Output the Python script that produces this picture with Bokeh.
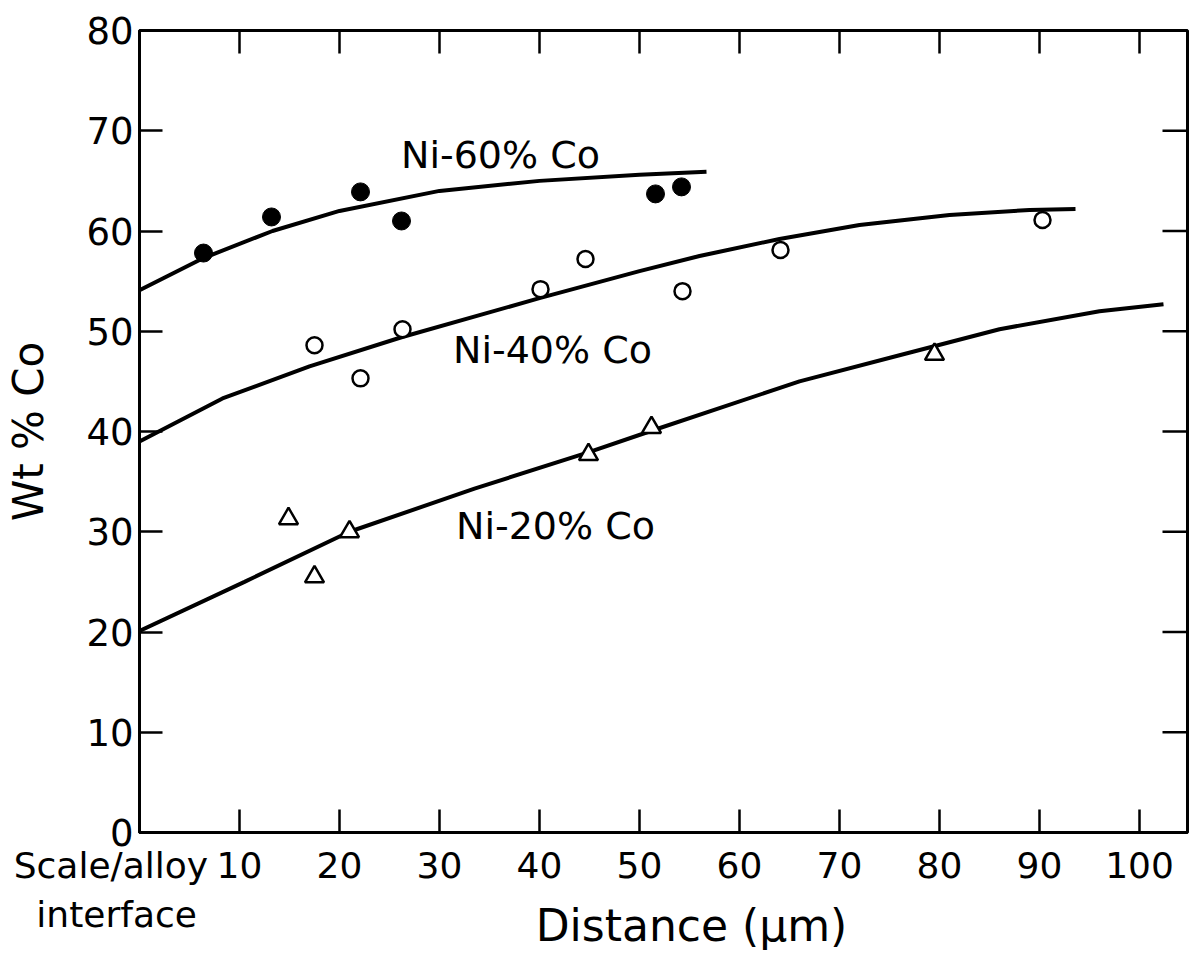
import math
from bokeh.plotting import figure
from bokeh.models import FixedTicker, Range1d, ColumnDataSource
from bokeh.core.properties import value
from bokeh.embed import file_html
from bokeh.resources import INLINE

FONT = "DejaVu Sans"
NB = "\u00a0"

# ---- data ----
co60_x = [6.4, 13.2, 22.1, 26.2, 51.6, 54.2]
co60_y = [57.8, 61.4, 63.9, 61.0, 63.7, 64.4]
co40_x = [17.5, 22.1, 26.3, 40.1, 44.6, 54.3, 64.1, 90.3]
co40_y = [48.6, 45.3, 50.2, 54.2, 57.2, 54.0, 58.1, 61.1]
co20_x = [14.9, 17.5, 21.0, 44.9, 51.2, 79.5]
co20_y = [31.3, 25.5, 30.0, 37.7, 40.4, 47.7]

fit60_x = [0, 6.4, 13.3, 20, 30, 40, 50, 56.7]
fit60_y = [54.1, 57.3, 60.0, 62.0, 64.0, 65.0, 65.6, 65.9]
fit40_x = [0, 8.3, 17, 26.2, 40, 50, 56, 64, 72, 81, 89, 93.6]
fit40_y = [39.0, 43.3, 46.5, 49.4, 53.3, 56.0, 57.5, 59.2, 60.6, 61.6, 62.1, 62.2]
fit20_x = [0, 10.5, 21, 33.5, 44.8, 51, 66, 76, 86, 96, 102.4]
fit20_y = [20.1, 25.0, 30.0, 34.3, 37.9, 40.0, 45.0, 47.6, 50.2, 52.0, 52.7]

curve_labels = ["Ni-60% Co", "Ni-40% Co", "Ni-20% Co"]
curve_label_x = [36.1, 41.3, 41.6]
curve_label_y = [67.6, 48.1, 30.6]

x_ticks = [0, 10, 20, 30, 40, 50, 60, 70, 80, 90, 100]
y_ticks = [0, 10, 20, 30, 40, 50, 60, 70, 80]
origin_label = ["Scale/alloy", "interface"]
X_MAX = 104.8
Y_MAX = 80

p = figure(width=1189, height=961, output_backend="svg", toolbar_location=None,
           x_range=Range1d(0, X_MAX), y_range=Range1d(0, Y_MAX),
           min_border_left=139, min_border_right=2, min_border_top=30, min_border_bottom=129,
           background_fill_color="white", border_fill_color="white")
p.grid.visible = False
p.outline_line_color = "black"
p.outline_line_width = 3

xa = p.xaxis[0]
xa.ticker = FixedTicker(ticks=x_ticks)
# the origin tick carries the "Scale/alloy interface" note (padded so it sits left of the tick)
xa.major_label_overrides = {0: origin_label[0] + NB * 5 + "\n" + origin_label[1] + NB * 4}
xa.axis_label = NB * 4 + "Distance (\u03bcm)"
ya = p.yaxis[0]
ya.ticker = FixedTicker(ticks=y_ticks)
ya.axis_label = "Wt % Co"

for ax in (xa, ya):
    ax.axis_line_width = 3
    ax.axis_line_color = "black"
    ax.major_tick_in = 23
    ax.major_tick_out = 0
    ax.major_tick_line_width = 2.5
    ax.major_tick_line_color = "black"
    ax.minor_tick_line_color = None
    ax.major_label_text_font = FONT
    ax.major_label_text_color = "black"
    ax.axis_label_text_font = FONT
    ax.axis_label_text_font_style = "normal"
    ax.axis_label_text_color = "black"

xa.major_label_text_font_size = "36px"
xa.major_label_standoff = 12
xa.axis_label_text_font_size = "44px"
xa.axis_label_standoff = -38
ya.major_label_text_font_size = "37px"
ya.major_label_standoff = 6
ya.axis_label_text_font_size = "42px"
ya.axis_label_standoff = 30

# inward tick marks on the top and right frame edges (outer half clipped by the frame)
top_ticks = x_ticks[1:]
right_ticks = y_ticks[1:-1]
p.scatter(top_ticks, [Y_MAX] * len(top_ticks), marker="dash", angle=math.pi / 2, size=46,
          line_color="black", line_width=2.5)
p.scatter([X_MAX] * len(right_ticks), right_ticks, marker="dash", size=50,
          line_color="black", line_width=2.5)

# fitted curves
p.line(fit60_x, fit60_y, line_color="black", line_width=4)
p.line(fit40_x, fit40_y, line_color="black", line_width=4)
p.line(fit20_x, fit20_y, line_color="black", line_width=4)

# data points
p.scatter(co60_x, co60_y, marker="circle", size=18, fill_color="black", line_color="black")
p.scatter(co40_x, co40_y, marker="circle", size=16, fill_color="white", line_color="black",
          line_width=2.5)
p.scatter(co20_x, co20_y, marker="triangle", size=19, fill_color="white", line_color="black",
          line_width=2.5)

# curve labels
src = ColumnDataSource(dict(x=curve_label_x, y=curve_label_y, t=curve_labels))
p.text(x="x", y="y", text="t", source=src, text_font=value(FONT), text_font_size="38px",
       text_align="center", text_baseline="middle", text_color="black")

open("out.html", "w").write(file_html(p, INLINE))
